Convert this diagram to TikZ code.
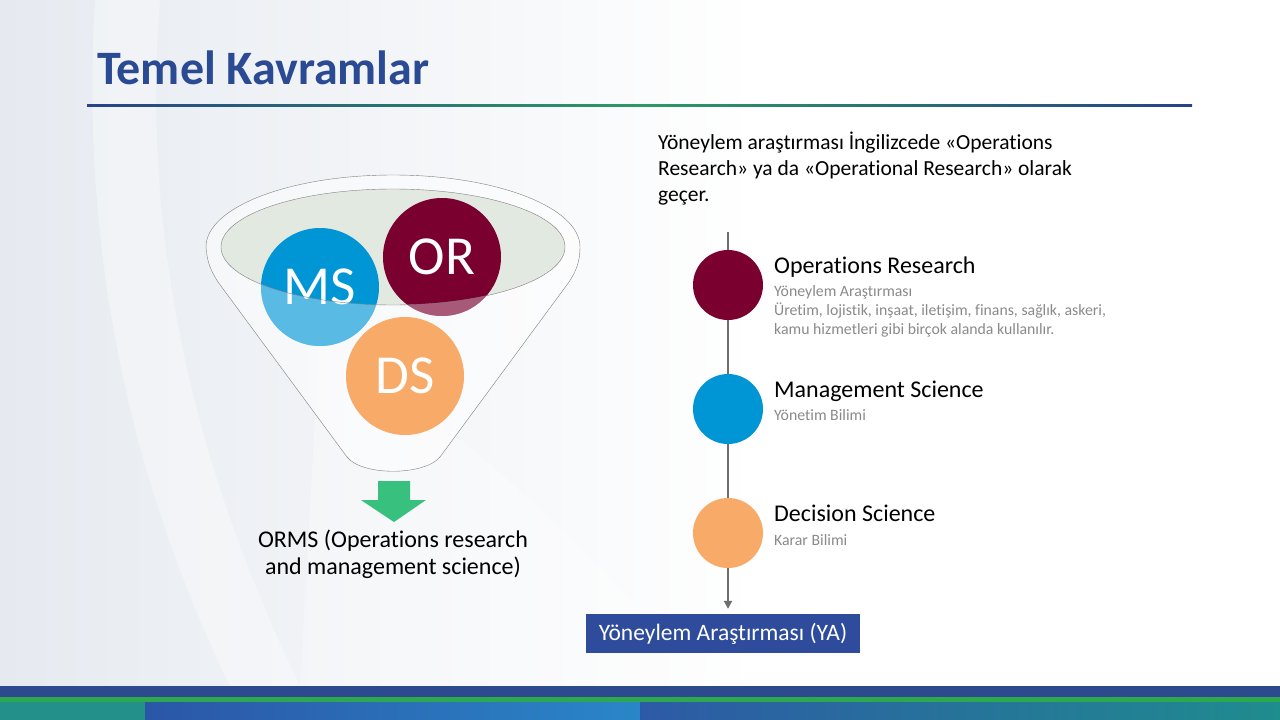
\documentclass[tikz,border=0pt]{standalone}
\usepackage{fontspec}
\setmainfont{Carlito}[Ligatures=NoCommon]
\usepackage{xcolor}
\usepackage{tikz}
\usetikzlibrary{arrows.meta,calc,positioning}
\definecolor{lacivert}{HTML}{2B4A94}
\definecolor{kutumavi}{HTML}{2E4C9B}
\definecolor{msmavi}{HTML}{0096D6}
\definecolor{orbordo}{HTML}{7A0030}
\definecolor{dsturuncu}{HTML}{F8AA68}
\definecolor{huniyesil}{HTML}{E2E9E1}
\definecolor{okyesil}{HTML}{38C07E}
\definecolor{koyugri}{HTML}{6E6E6E}
\definecolor{acikgri}{HTML}{8A8A8A}
\definecolor{zemin}{HTML}{E6EAF0}
\definecolor{bantmavi}{HTML}{2D4A8E}
\definecolor{bantyesil}{HTML}{2EA84F}
\definecolor{banttuz}{HTML}{23918A}
\definecolor{bant1}{HTML}{2B56A8}
\definecolor{bant2}{HTML}{2A86C8}
\definecolor{bant3}{HTML}{2D5AA6}
\definecolor{bant4}{HTML}{1F8C8E}
\tikzset{
  buyukdaire/.style={circle,minimum size=118pt,inner sep=0pt,text=white,font=\fontsize{55}{55}\selectfont},
  daire/.style={circle,minimum size=70pt,inner sep=0pt},
  baslik/.style={anchor=base west,inner sep=0pt,font=\fontsize{24}{28}\selectfont},
  aciklama/.style={anchor=base west,inner sep=0pt,align=left,text=acikgri,font=\fontsize{15.8}{19}\selectfont},
  cizgi/.style={koyugri,line width=2.4pt},
  ok/.style={-{Triangle[length=8pt,width=8pt]},koyugri,line width=2.4pt}
}

\begin{document}
\begin{tikzpicture}[x=1pt,y=-1pt]
\useasboundingbox (0,0) rectangle (1280,720);
% zemin
\fill[white] (0,0) rectangle (1280,720);
\shade[left color=zemin,right color=white] (0,0) rectangle (760,686);
\fill[white,opacity=.35] (95,0) -- (160,0) .. controls (140,250) and (200,480) .. (300,686) -- (230,686) .. controls (130,480) and (80,250) .. cycle;
\fill[white,opacity=.3] (320,330) .. controls (470,440) and (610,560) .. (700,686) -- (300,686) -- cycle;
% alt bant
\fill[bantmavi] (0,686) rectangle (1280,697);
\fill[bantyesil] (0,697) rectangle (1280,702);
\fill[banttuz] (0,702) rectangle (145,720);
\shade[left color=bant1,right color=bant2] (145,702) rectangle (640,720);
\shade[left color=bant3,right color=bant4] (640,702) rectangle (1280,720);

% baslik
\node[anchor=base west,inner sep=0pt,text=lacivert,font=\fontsize{48}{48}\selectfont\bfseries] (baslik) at (97,84) {Temel Kavramlar};
\shade[left color=lacivert!90!black,right color=lacivert!90!black,middle color=okyesil!80!black] (87,104) rectangle (1192,106);

% huni
\draw[gray,fill=white,fill opacity=.5] (580,247) arc[start angle=0,end angle=-180,x radius=187,y radius=72]
  .. controls (207,262) and (211,271) .. (218,282) -- (347,457)
  .. controls (362,476) and (424,476) .. (440,457) -- (569,282)
  .. controls (576,271) and (580,262) .. (580,247);
\fill[huniyesil] (393,247) ellipse[x radius=172,y radius=58];
\node[buyukdaire,fill=msmavi] (ms) at (320,287) {MS};
\node[buyukdaire,fill=orbordo] (or) at (442,257) {OR};
\begin{scope}
  \clip (320,287) circle (59) (442,257) circle (59);
  \fill[white,opacity=.35,even odd rule] (200,150) rectangle (600,400) (393,247) ellipse[x radius=172,y radius=58];
\end{scope}
\draw[gray] (393,247) ellipse[x radius=172,y radius=58];
\node[buyukdaire,fill=dsturuncu] (ds) at (405,376) {DS};

% yesil ok
\fill[okyesil] (378,481) -- (410,481) -- (410,500) -- (426,500) -- (394,522) -- (361,500) -- (378,500) -- cycle;
\node[align=center,inner sep=0pt,font=\fontsize{24}{27}\selectfont] (orms) at (393,554) {ORMS (Operations research\\and management science)};

% sag metin
\node[anchor=base west,inner sep=0pt,align=left,font=\fontsize{21.5}{26}\selectfont] (giris) at (658,201)
  {Yöneylem araştırması İngilizcede «Operations\\Research» ya da «Operational Research» olarak\\geçer.};

% zaman cizgisi
\coordinate (ust) at (728,232);
\node[daire,fill=orbordo] (d1) at (728,285) {};
\node[daire,fill=msmavi] (d2) at (728,409) {};
\node[daire,fill=dsturuncu] (d3) at (728,533) {};
\node[fill=kutumavi,text=white,minimum width=274pt,minimum height=39pt,inner sep=0pt,font=\fontsize{23.5}{23.5}\selectfont] (ya) at (723,633.5) {Yöneylem Araştırması (YA)};
\draw[cizgi] (ust) -- (d1);
\draw[cizgi] (d1) -- (d2);
\draw[cizgi] (d2) -- (d3);
\draw[ok,shorten >=5pt] (d3) -- (d3 |- ya.north);

\node[baslik] (t1) at (774,273) {Operations Research};
\node[aciklama] (a1) at (774,334) {Yöneylem Araştırması\\Üretim, lojistik, inşaat, iletişim, finans, sağlık, askeri,\\kamu hizmetleri gibi birçok alanda kullanılır.};
\node[baslik] (t2) at (774,397) {Management Science};
\node[aciklama] (a2) at (774,420) {Yönetim Bilimi};
\node[baslik] (t3) at (774,521) {Decision Science};
\node[aciklama] (a3) at (774,545) {Karar Bilimi};
\end{tikzpicture}
\end{document}
